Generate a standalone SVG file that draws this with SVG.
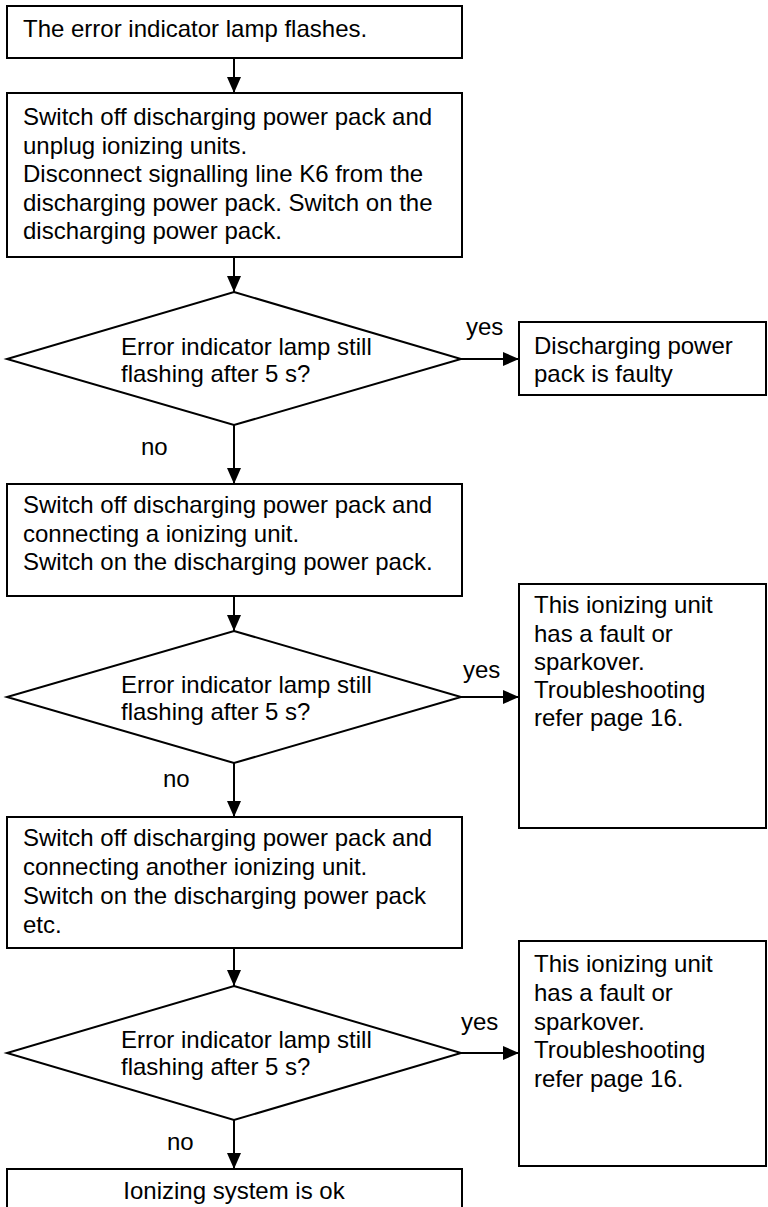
<svg xmlns="http://www.w3.org/2000/svg" width="768" height="1207" viewBox="0 0 768 1207">
<style>
  .box{fill:#fff;stroke:#000;stroke-width:2}
  .t{font-family:"Liberation Sans",Arial,Helvetica,sans-serif;font-size:24px;fill:#000}
  .c{text-anchor:middle}
  .ln{stroke:#000;stroke-width:2;fill:none;marker-end:url(#ah)}
</style>
<defs>
  <marker id="ah" markerUnits="userSpaceOnUse" markerWidth="16" markerHeight="14" refX="16" refY="7" orient="auto">
    <polygon points="0,0 16,7 0,14" fill="#000"/>
  </marker>
</defs>
<rect width="768" height="1207" fill="#fff"/>
<g id="connectors">
  <line class="ln" x1="234" y1="58" x2="234" y2="93"/>
  <line class="ln" x1="234" y1="257" x2="234" y2="292"/>
  <line class="ln" x1="461" y1="359" x2="519" y2="359"/>
  <line class="ln" x1="234" y1="425" x2="234" y2="484"/>
  <line class="ln" x1="234" y1="596" x2="234" y2="631"/>
  <line class="ln" x1="461" y1="697" x2="519" y2="697"/>
  <line class="ln" x1="234" y1="763" x2="234" y2="817"/>
  <line class="ln" x1="234" y1="948" x2="234" y2="986"/>
  <line class="ln" x1="461" y1="1053" x2="519" y2="1053"/>
  <line class="ln" x1="234" y1="1120" x2="234" y2="1169"/>
  <text class="t" x="466" y="335">yes</text>
  <text class="t" x="141" y="455">no</text>
  <text class="t" x="463" y="678">yes</text>
  <text class="t" x="163" y="787">no</text>
  <text class="t" x="461" y="1030">yes</text>
  <text class="t" x="167" y="1150">no</text>
</g>
<g id="start">
  <rect class="box" x="7" y="6" width="455" height="52"/>
  <text class="t" x="23" y="37">The error indicator lamp flashes.</text>
</g>
<g id="step1">
  <rect class="box" x="7" y="93" width="455" height="164"/>
  <text class="t" x="23" y="125">Switch off discharging power pack and</text>
  <text class="t" x="23" y="154">unplug ionizing units.</text>
  <text class="t" x="23" y="182">Disconnect signalling line K6 from the</text>
  <text class="t" x="23" y="211">discharging power pack. Switch on the</text>
  <text class="t" x="23" y="239">discharging power pack.</text>
</g>
<g id="decision1">
  <polygon class="box" points="234,292 461,359 234,425 7,359"/>
  <text class="t" x="121" y="355">Error indicator lamp still</text>
  <text class="t" x="121" y="382">flashing after 5 s?</text>
</g>
<g id="faulty">
  <rect class="box" x="519" y="322" width="247" height="73"/>
  <text class="t" x="534" y="354">Discharging power</text>
  <text class="t" x="534" y="382">pack is faulty</text>
</g>
<g id="step2">
  <rect class="box" x="7" y="484" width="455" height="112"/>
  <text class="t" x="23" y="513">Switch off discharging power pack and</text>
  <text class="t" x="23" y="542">connecting a ionizing unit.</text>
  <text class="t" x="23" y="570">Switch on the discharging power pack.</text>
</g>
<g id="decision2">
  <polygon class="box" points="234,631 461,697 234,763 7,697"/>
  <text class="t" x="121" y="693">Error indicator lamp still</text>
  <text class="t" x="121" y="720">flashing after 5 s?</text>
</g>
<g id="fault1">
  <rect class="box" x="519" y="584" width="247" height="244"/>
  <text class="t" x="534" y="613">This ionizing unit</text>
  <text class="t" x="534" y="642">has a fault or</text>
  <text class="t" x="534" y="670">sparkover.</text>
  <text class="t" x="534" y="698">Troubleshooting</text>
  <text class="t" x="534" y="726">refer page 16.</text>
</g>
<g id="step3">
  <rect class="box" x="7" y="817" width="455" height="131"/>
  <text class="t" x="23" y="846">Switch off discharging power pack and</text>
  <text class="t" x="23" y="875">connecting another ionizing unit.</text>
  <text class="t" x="23" y="904">Switch on the discharging power pack</text>
  <text class="t" x="23" y="933">etc.</text>
</g>
<g id="decision3">
  <polygon class="box" points="234,986 461,1053 234,1120 7,1053"/>
  <text class="t" x="121" y="1048">Error indicator lamp still</text>
  <text class="t" x="121" y="1075">flashing after 5 s?</text>
</g>
<g id="fault2">
  <rect class="box" x="519" y="941" width="247" height="225"/>
  <text class="t" x="534" y="972">This ionizing unit</text>
  <text class="t" x="534" y="1001">has a fault or</text>
  <text class="t" x="534" y="1030">sparkover.</text>
  <text class="t" x="534" y="1058">Troubleshooting</text>
  <text class="t" x="534" y="1087">refer page 16.</text>
</g>
<g id="ok">
  <rect class="box" x="7" y="1169" width="455" height="50"/>
  <text class="t c" x="234" y="1199">Ionizing system is ok</text>
</g>
</svg>
